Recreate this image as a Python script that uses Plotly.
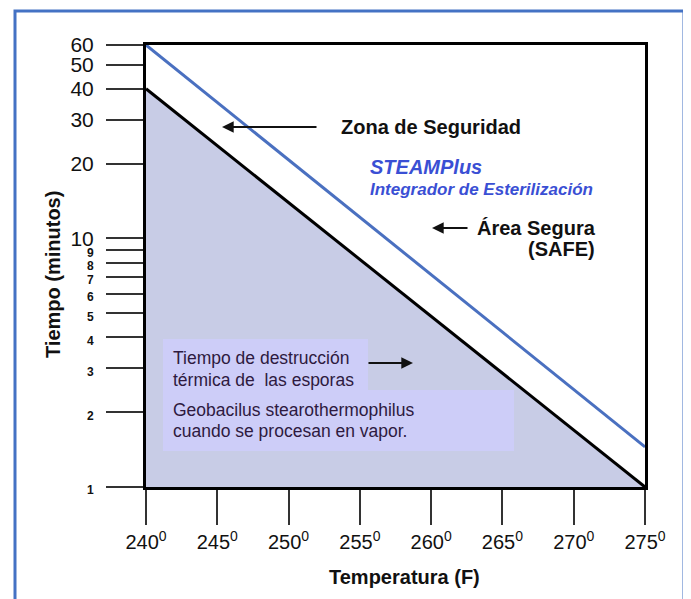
import plotly.graph_objects as go

# Data
temps = [240, 275]
tdt_spores = [40, 1.0]          # black line: thermal death time of spores
steamplus = [60, 1.45]          # blue line: STEAMPlus integrator
x_ticks = [240, 245, 250, 255, 260, 265, 270, 275]
x_ticktext = [f"{t}<sup>0</sup>" for t in x_ticks]
y_big = [60, 50, 40, 30, 20, 10]
y_small = [9, 8, 7, 6, 5, 4, 3, 2, 1]

y_ticks = y_big + y_small
y_ticktext = [str(v) for v in y_big] + [f"<span style='font-size:12px'><b>{v}</b></span>" for v in y_small]

OFF = 8  # default body margin of the page
PL, PR, PT, PB = 146, 645, 45, 487   # plot area in page pixels
W, H = 683, 591

def px(x):
    return (x - PL) / (PR - PL)
def py(y):
    return (PB - y) / (PB - PT)

fig = go.Figure()
fig.add_trace(go.Scatter(x=temps, y=tdt_spores, mode="lines", fill="tozeroy",
                         fillcolor="#c8cce6", line=dict(color="black", width=3),
                         hoverinfo="skip", showlegend=False))
fig.add_trace(go.Scatter(x=temps, y=steamplus, mode="lines",
                         line=dict(color="#4a70c0", width=3),
                         hoverinfo="skip", showlegend=False))

font_main = "Liberation Sans, Arial, sans-serif"
fig.update_layout(
    width=W, height=H,
    margin=dict(l=PL - OFF, r=W - (PR - OFF), t=PT - OFF, b=H - (PB - OFF)),
    paper_bgcolor="white", plot_bgcolor="white",
    font=dict(family=font_main, color="black"),
    showlegend=False,
    xaxis=dict(range=[240, 275], tickvals=x_ticks, ticktext=x_ticktext,
               ticks="outside", ticklen=35, tickwidth=1.5, tickcolor="#333",
               showline=True, linecolor="black", linewidth=3, mirror=True,
               showgrid=False, zeroline=False,
               tickfont=dict(size=20, family=font_main, color="#111")),
    yaxis=dict(type="log", range=[0, 1.7782], tickvals=y_ticks, ticktext=y_ticktext,
               ticks="outside", ticklen=37, tickwidth=1.5, tickcolor="#333",
               showline=True, linecolor="black", linewidth=3, mirror=True,
               showgrid=False, zeroline=False, ticklabelstandoff=8,
               tickfont=dict(size=21, family=font_main, color="#111")),
)

shapes = [
    dict(type="rect", xref="paper", yref="paper", x0=px(15), x1=px(684), y0=py(11), y1=py(640),
         line=dict(color="#4472c4", width=3), fillcolor="rgba(0,0,0,0)", layer="below"),
    dict(type="rect", xref="paper", yref="paper", x0=px(163), x1=px(368), y0=py(390), y1=py(339),
         line=dict(width=0), fillcolor="#cdcdf8", layer="above"),
    dict(type="rect", xref="paper", yref="paper", x0=px(163), x1=px(514), y0=py(451), y1=py(390),
         line=dict(width=0), fillcolor="#cdcdf8", layer="above"),
]
fig.update_layout(shapes=shapes)

ann = []
def text(t, x, y, size, color="black", xanchor="left", bold=False, italic=False, angle=0):
    s = t
    if bold:
        s = f"<b>{s}</b>"
    if italic:
        s = f"<i>{s}</i>"
    ann.append(dict(text=s, xref="paper", yref="paper", x=px(x), y=py(y), xanchor=xanchor,
                    yanchor="middle", showarrow=False, textangle=angle,
                    font=dict(size=size, color=color, family=font_main)))

def arrow(hx, hy, tx, ty):
    ann.append(dict(text="", xref="paper", yref="paper", x=px(hx), y=py(hy),
                    ax=tx - hx, ay=ty - hy, axref="pixel", ayref="pixel",
                    showarrow=True, arrowhead=2, arrowsize=1.3, arrowwidth=1.8, arrowcolor="#111"))

text("Zona de Seguridad", 339, 127, 20, bold=True, color="#111")
arrow(222, 127, 318, 127)
text("STEAMPlus", 368, 167, 20, color="#3a4fd4", bold=True, italic=True)
text("Integrador de Esterilización", 368, 190, 17, color="#3a4fd4", bold=True, italic=True)
text("Área Segura", 475, 228, 20, bold=True, color="#111")
text("(SAFE)", 597, 249, 20, bold=True, color="#111", xanchor="right")
arrow(432, 228, 469, 228)
text("Tiempo de destrucción", 171, 358, 17.5, color="#2e1a40")
text("térmica de  las esporas", 171, 380, 17.5, color="#2e1a40")
arrow(413, 363, 367, 363)
text("Geobacilus stearothermophilus", 171, 410, 17.5, color="#2e1a40")
text("cuando se procesan en vapor.", 171, 431, 17.5, color="#2e1a40")
text("Tiempo (minutos)", 53, 275, 20, bold=True, color="#111", xanchor="center", angle=-90)
text("Temperatura (F)", 404, 577, 20, bold=True, color="#111", xanchor="center")
fig.update_layout(annotations=ann)

fig.write_html("out.html")
